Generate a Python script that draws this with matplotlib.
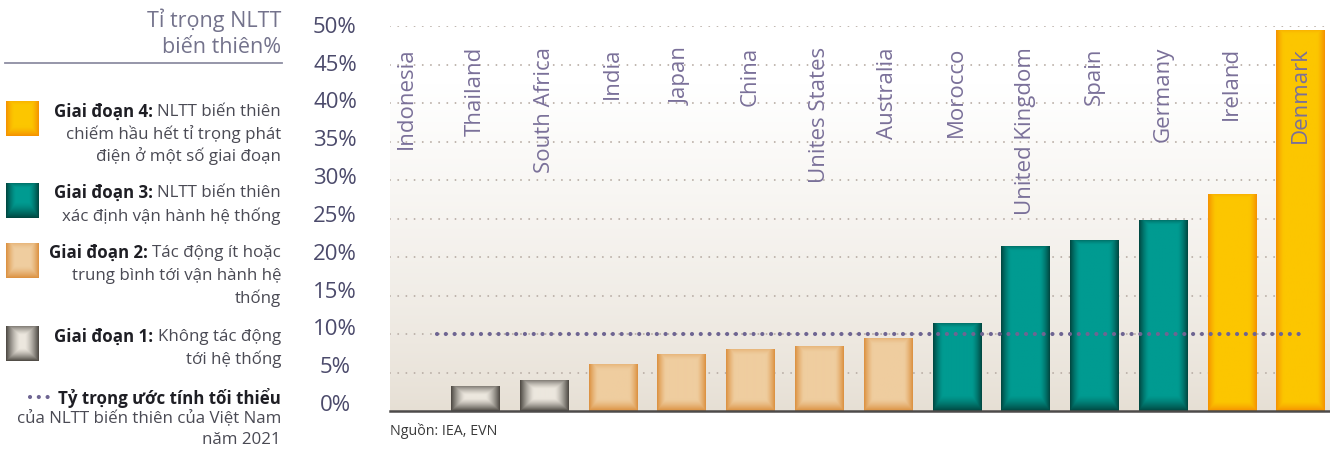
import numpy as np
import matplotlib
matplotlib.use("Agg")
import matplotlib.pyplot as plt
import matplotlib.transforms as mtransforms
from matplotlib.colors import to_rgb

plt.rcParams['font.family'] = ['Open Sans', 'DejaVu Sans']

W, H = 1330, 452

# Data
countries = ["Indonesia", "Thailand", "South Africa", "India", "Japan", "China",
             "Unites States", "Australia", "Morocco", "United Kingdom", "Spain",
             "Germany", "Ireland", "Denmark"]
shares = [0.0, 3.2, 4.0, 6.0, 7.4, 8.0, 8.4, 9.4, 11.4, 21.3, 22.1, 24.7, 28.1, 49.4]
stages = [1, 1, 1, 2, 2, 2, 2, 2, 3, 3, 3, 3, 4, 4]
vietnam_min_share = 10.0
y_ticks = [0, 5, 10, 15, 20, 25, 30, 35, 40, 45, 50]
y_tick_labels = [f"{v}%" for v in y_ticks]

title_lines = ["Tỉ trọng NLTT", "biến thiên%"]
stage_notes = {
    4: ("Giai đoạn 4:", "NLTT biến thiên", ["chiếm hầu hết tỉ trọng phát", "điện ở một số giai đoạn"]),
    3: ("Giai đoạn 3:", "NLTT biến thiên", ["xác định vận hành hệ thống"]),
    2: ("Giai đoạn 2:", "Tác động ít hoặc", ["trung bình tới vận hành hệ", "thống"]),
    1: ("Giai đoạn 1:", "Không tác động", ["tới hệ thống"]),
}
vietnam_note = ("Tỷ trọng ước tính tối thiểu", ["của NLTT biến thiên của Việt Nam", "năm 2021"])
source_text = "Nguồn: IEA, EVN"

# colour styles: (centre, edge, rx, rb, rt, top_strength)
stage_style = {
    1: ("#ece7de", "#4a4640", 14, 13, 9, 0.75),
    2: ("#efcd9f", "#db8f3d", 9, 12, 6, 0.5),
    3: ("#009b91", "#00443e", 10, 16, 5, 0.6),
    4: ("#fcc600", "#f59000", 8, 10, 4, 0.5),
}

TEXT_DARK = "#1e1e24"
TEXT_MID = "#4a4a54"
AXIS_LABEL = "#4b4a6b"
CAT_LABEL = "#7a7099"
VN_DOT = "#6e6592"


def px(x, y):
    return x / W, 1 - y / H


def vignette(stage, w_px, h_px):
    center, edge, rx, rb, rt, top_k = stage_style[stage]
    nx = max(int(round(w_px)), 2)
    ny = max(int(round(h_px)), 2)
    xs = np.arange(nx) + 0.5
    ys = np.arange(ny) + 0.5
    dx = np.minimum(xs, nx - xs)[None, :] * np.ones((ny, 1))
    dtop = ys[:, None] * np.ones((1, nx))
    dbot = (ny - ys)[:, None] * np.ones((1, nx))
    f = np.maximum.reduce([
        np.clip(1 - dx / rx, 0, 1),
        np.clip(1 - dbot / rb, 0, 1),
        top_k * np.clip(1 - dtop / rt, 0, 1),
    ])
    f = f ** 1.4
    c = np.array(to_rgb(center))
    e = np.array(to_rgb(edge))
    return c * (1 - f[..., None]) + e * f[..., None]


fig = plt.figure(figsize=(W / 100, H / 100), dpi=100)

# ---- main chart ----
ax_left, ax_right, ax_top, ax_base = 390, 1330, 27, 412
ax = fig.add_axes([ax_left / W, (H - ax_base) / H, (ax_right - ax_left) / W, (ax_base - ax_top) / H])
for s in ax.spines.values():
    s.set_visible(False)

x = np.arange(len(countries))
x_lo, x_hi = -0.24, 13.43
bar_w = 0.70

# background gradient (beige at bottom -> white at top)
t = np.linspace(0, 1, 256)[:, None]
beige = np.array(to_rgb("#e6dfd4"))
white = np.array([1.0, 1.0, 1.0])
k = np.clip(t / 0.85, 0, 1) ** 0.8
bg = (beige * (1 - k) + white * k)[:, None, :].repeat(2, axis=1)
ax.imshow(bg, extent=[0, 1, 0, 1], transform=ax.transAxes, origin="lower",
          aspect="auto", zorder=0, interpolation="bilinear")

# grid
for v in y_ticks[1:]:
    ax.axhline(v, color="#b9aea6", lw=1.4, linestyle=(0, (0.01, 4.2)),
               dash_capstyle="round", zorder=0.5)

bars = ax.bar(x, shares, width=bar_w, color=[stage_style[s][0] for s in stages], zorder=2)
ax.set_xlim(x_lo, x_hi)
ax.set_ylim(0, 50)
ppx = (ax_right - ax_left) / (x_hi - x_lo)
ppy = (ax_base - ax_top) / 50
for b, s in zip(bars, stages):
    h = b.get_height()
    if h <= 0:
        continue
    img = vignette(s, b.get_width() * ppx, h * ppy)
    ax.imshow(img, extent=[b.get_x(), b.get_x() + b.get_width(), 0, h],
              aspect="auto", zorder=2.5, interpolation="bilinear")
ax.set_xlim(x_lo, x_hi)
ax.set_ylim(0, 50)

# Vietnam minimum share line
ax.hlines(vietnam_min_share, x[0] + 0.44, x[-1] + 0.07, color=VN_DOT, lw=3.0,
          linestyle=(0, (0.01, 2.1)), capstyle="round", zorder=4)

# baseline
ax.axhline(0, color="#4d4b4a", lw=1.8, zorder=5, clip_on=False)

# category labels
for xi, name in zip(x, countries):
    ax.text(xi, 47.4, name, rotation=90, ha="center", va="top", fontsize=16,
            color=CAT_LABEL, zorder=6)

# y tick labels: centred column, spaced slightly tighter than the grid (as in the reference)
ax.set_xticks([])
ax.set_yticks([])
lab_tr = mtransforms.Affine2D().scale(1, 0.982).translate(0, 0.85) + ax.get_yaxis_transform()
for v, lab in zip(y_ticks, y_tick_labels):
    ax.text(-55 / (ax_right - ax_left), v, lab, transform=lab_tr, ha="center", va="center",
            fontsize=16, color=AXIS_LABEL, clip_on=False)

fig.text(*px(390, 431), source_text, ha="left", va="center", fontsize=10.3, color="#3a3a3a")

# ---- left legend panel ----
fig.text(*px(281, 20), title_lines[0], ha="right", va="center", fontsize=15.5, color="#74738c")
fig.text(*px(281, 48), title_lines[1], ha="right", va="center", fontsize=15.5, color="#74738c")
fig.add_artist(plt.Line2D([5 / W, 282 / W], [1 - 64 / H, 1 - 64 / H], color="#8d8ea3", lw=1.3))

fig.canvas.draw()
renderer = fig.canvas.get_renderer()


def rich_line(y, bold, regular, size=12.2):
    t_reg = fig.text(*px(281, y), regular, ha="right", va="center", fontsize=size, color=TEXT_MID)
    bb = t_reg.get_window_extent(renderer)
    fig.text(*px(bb.x0 - 4.5, y), bold, ha="right", va="center", fontsize=size,
             color=TEXT_DARK, fontweight="bold")


swatch_top = {4: 102, 3: 184, 2: 244, 1: 327}
line_y = {4: [112, 134, 156], 3: [193, 216], 2: [253, 276, 298], 1: [337, 359]}
for s in [4, 3, 2, 1]:
    top = swatch_top[s]
    sax = fig.add_axes([6 / W, 1 - (top + 35) / H, 33 / W, 35 / H])
    sax.imshow(vignette(s, 33, 35), aspect="auto", interpolation="bilinear")
    sax.set_axis_off()
    bold, reg, rest = stage_notes[s]
    ys = line_y[s]
    rich_line(ys[0], bold, reg)
    for yy, txt in zip(ys[1:], rest):
        fig.text(*px(281, yy), txt, ha="right", va="center", fontsize=12.2, color=TEXT_MID)

# Vietnam note
fig.add_artist(plt.Line2D([30 / W, 55 / W], [1 - 398 / H, 1 - 398 / H], color=VN_DOT, lw=3.0,
                          linestyle=(0, (0.01, 2.1)), dash_capstyle="round"))
fig.text(*px(281, 398), vietnam_note[0], ha="right", va="center", fontsize=12.2,
         color=TEXT_DARK, fontweight="bold")
fig.text(*px(281, 419), vietnam_note[1][0], ha="right", va="center", fontsize=12.2, color=TEXT_MID)
fig.text(*px(281, 440), vietnam_note[1][1], ha="right", va="center", fontsize=12.2, color=TEXT_MID)

fig.savefig("out.png", dpi=100)
